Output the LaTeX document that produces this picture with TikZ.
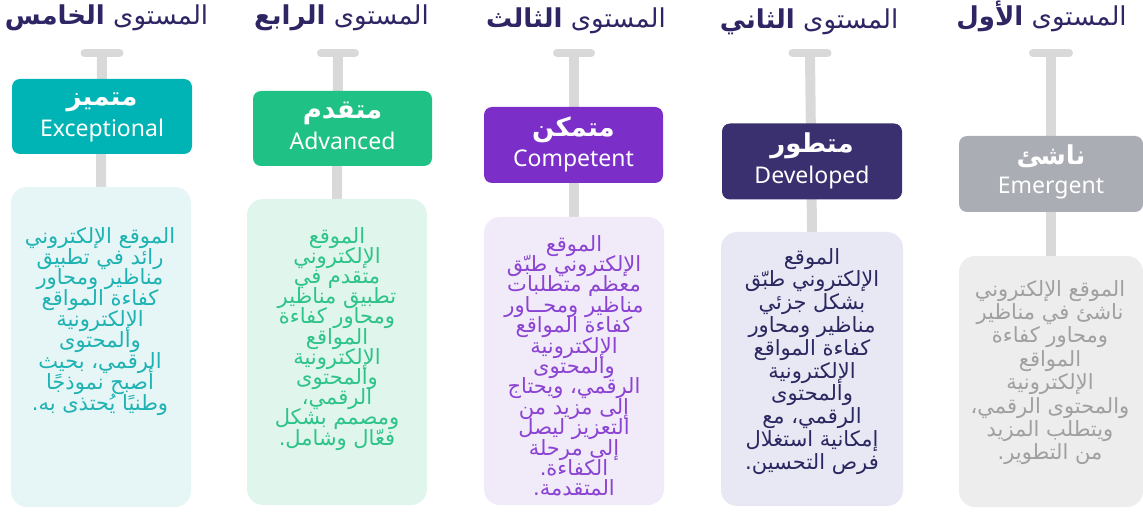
\documentclass[tikz,border=0pt]{standalone}
\usepackage{fontspec}
\usetikzlibrary{backgrounds}
\TeXXeTstate=1
\newfontfamily\arabicfont[Script=Arabic]{DejaVu Sans}
\newfontfamily\enfont{Noto Sans}
\newcommand{\rl}[1]{\beginR #1\endR}
\AtBeginDocument{\lineskiplimit=-100pt\relax}
\definecolor{ttl}{HTML}{2E2664}
\definecolor{stemc}{HTML}{D9D9D9}
\definecolor{hA}{HTML}{00B3B4}\definecolor{bA}{HTML}{E6F6F7}\definecolor{tA}{HTML}{1FB2B2}
\definecolor{hB}{HTML}{1FC185}\definecolor{bB}{HTML}{E0F6EC}\definecolor{tB}{HTML}{2DC389}
\definecolor{hC}{HTML}{7B2FC8}\definecolor{bC}{HTML}{F1EAF9}\definecolor{tC}{HTML}{8B43D2}
\definecolor{hD}{HTML}{3A2F6F}\definecolor{bD}{HTML}{E8E8F4}\definecolor{tD}{HTML}{2B2760}
\definecolor{hE}{HTML}{ABADB5}\definecolor{bE}{HTML}{EDEDED}\definecolor{tE}{HTML}{A0A0A0}
\tikzset{
  titletext/.style={font=\arabicfont\fontsize{26}{30}\selectfont, text=ttl, inner sep=0pt, anchor=base},
  headbox/.style={rounded corners=8pt, minimum width=180pt, minimum height=75pt, inner sep=0pt},
  headar/.style={font=\arabicfont\bfseries\fontsize{26}{30}\selectfont, text=white, inner sep=0pt, anchor=base},
  heden/.style={font=\enfont\fontsize{23}{26}\selectfont, text=white, inner sep=0pt, anchor=base},
  bodybox/.style={rounded corners=16pt, minimum width=180pt, inner sep=0pt},
  bodytext/.style={inner sep=0pt, anchor=north, align=center, font=\arabicfont\fontsize{21}{#1}\selectfont},
  capline/.style={draw=stemc, line width=8pt, line cap=round},
  stemline/.style={draw=stemc, line width=10pt},
}
\begin{document}
\begin{tikzpicture}[x=1pt,y=-1pt]
\useasboundingbox (0,0) rectangle (1143,513);
% titles
\node[titletext] (t1) at (106.5,25) {\rl{المستوى \textbf{الخامس}}};
\node[titletext] (t2) at (341.5,25) {\rl{المستوى \textbf{الرابع}}};
\node[titletext] (t3) at (576,28) {\rl{المستوى \textbf{الثالث}}};
\node[titletext] (t4) at (809,29) {\rl{المستوى \textbf{الثاني}}};
\node[titletext] (t5) at (1041.5,26) {\rl{المستوى \textbf{الأول}}};
% caps
\coordinate (c1) at (102,53);
\coordinate (c2) at (338,53);
\coordinate (c3) at (574,53);
\coordinate (c4) at (810,53);
\coordinate (c5) at (1051,53);
% body boxes
\node[bodybox, fill=bA, minimum height=320pt] (b1) at (101,347) {};
\node[bodybox, fill=bB, minimum height=306pt] (b2) at (337,352) {};
\node[bodybox, fill=bC, minimum height=288pt] (b3) at (574,361) {};
\node[bodybox, fill=bD, minimum height=274pt, minimum width=182pt] (b4) at (812,369) {};
\node[bodybox, fill=bE, minimum height=251pt, minimum width=184pt] (b5) at (1051,381.5) {};
% header boxes
\node[headbox, fill=hA] (h1) at (102,116.5) {};
\node[headbox, fill=hB, minimum width=179pt] (h2) at (342.5,128.5) {};
\node[headbox, fill=hC, minimum width=179pt, minimum height=76pt] (h3) at (573.5,145) {};
\node[headbox, fill=hD, minimum height=76pt] (h4) at (812,161.5) {};
\node[headbox, fill=hE, minimum width=184pt, minimum height=76pt] (h5) at (1051,174) {};
% header labels
\node[headar] (a1) at ([yshift=-27pt]h1.north) {\rl{متميز}};
\node[heden] (e1) at ([yshift=-58pt]h1.north) {Exceptional};
\node[headar] (a2) at ([yshift=-28pt]h2.north) {\rl{متقدم}};
\node[heden] (e2) at ([yshift=-59pt]h2.north) {Advanced};
\node[headar] (a3) at ([yshift=-30pt]h3.north) {\rl{متمكن}};
\node[heden] (e3) at ([yshift=-60pt]h3.north) {Competent};
\node[headar] (a4) at ([yshift=-29pt]h4.north) {\rl{متطور}};
\node[heden] (e4) at ([yshift=-60pt]h4.north) {Developed};
\node[headar] (a5) at ([yshift=-29pt]h5.north) {\rl{ناشئ}};
\node[heden] (e5) at ([yshift=-58pt]h5.north) {Emergent};
% stems and caps behind
\begin{scope}[on background layer]
\draw[stemline] (c1) -- (b1.north);
\draw[stemline] (c2) -- (b2.north);
\draw[stemline] (c3) -- (b3.north);
\draw[stemline] (c4) -- (b4.north);
\draw[stemline] (c5) -- (b5.north);
\draw[capline] ([xshift=-17.5pt]c1) -- ([xshift=17.5pt]c1);
\draw[capline] ([xshift=-17pt]c2) -- ([xshift=17pt]c2);
\draw[capline] ([xshift=-17pt]c3) -- ([xshift=17pt]c3);
\draw[capline] ([xshift=-17.5pt]c4) -- ([xshift=17.5pt]c4);
\draw[capline] ([xshift=-18pt]c5) -- ([xshift=18pt]c5);
\end{scope}
% body texts
\node[bodytext=20.9, text=tA] (x1) at (100,227) {\rl{الموقع الإلكتروني}\\\rl{رائد في تطبيق}\\\rl{مناظير ومحاور}\\\rl{كفاءة المواقع}\\\rl{الإلكترونية}\\\rl{والمحتوى}\\\rl{الرقمي، بحيث}\\\rl{أصبح نموذجًا}\\\rl{وطنيًا يُحتذى به.}};
\node[bodytext=20.2, text=tB] (x2) at (337,227) {\rl{الموقع}\\\rl{الإلكتروني}\\\rl{متقدم في}\\\rl{تطبيق مناظير}\\\rl{ومحاور كفاءة}\\\rl{المواقع}\\\rl{الإلكترونية}\\\rl{والمحتوى}\\\rl{الرقمي،}\\\rl{ومصمم بشكل}\\\rl{فعّال وشامل.}};
\node[bodytext=20.4, text=tC] (x3) at (574,235) {\rl{الموقع}\\\rl{الإلكتروني طبّق}\\\rl{معظم متطلبات}\\\rl{مناظير ومحــاور}\\\rl{كفاءة المواقع}\\\rl{الإلكترونية}\\\rl{والمحتوى}\\\rl{الرقمي، ويحتاج}\\\rl{إلى مزيد من}\\\rl{التعزيز ليصل}\\\rl{إلى مرحلة}\\\rl{الكفاءة.}\\\rl{المتقدمة.}};
\node[bodytext=22.8, text=tD] (x4) at (812,248) {\rl{الموقع}\\\rl{الإلكتروني طبّق}\\\rl{بشكل جزئي}\\\rl{مناظير ومحاور}\\\rl{كفاءة المواقع}\\\rl{الإلكترونية}\\\rl{والمحتوى}\\\rl{الرقمي، مع}\\\rl{إمكانية استغلال}\\\rl{فرص التحسين.}};
\node[bodytext=23.4, text=tE] (x5) at (1050,280) {\rl{الموقع الإلكتروني}\\\rl{ناشئ في مناظير}\\\rl{ومحاور كفاءة}\\\rl{المواقع}\\\rl{الإلكترونية}\\\rl{والمحتوى الرقمي،}\\\rl{ويتطلب المزيد}\\\rl{من التطوير.}};
\end{tikzpicture}
\end{document}
